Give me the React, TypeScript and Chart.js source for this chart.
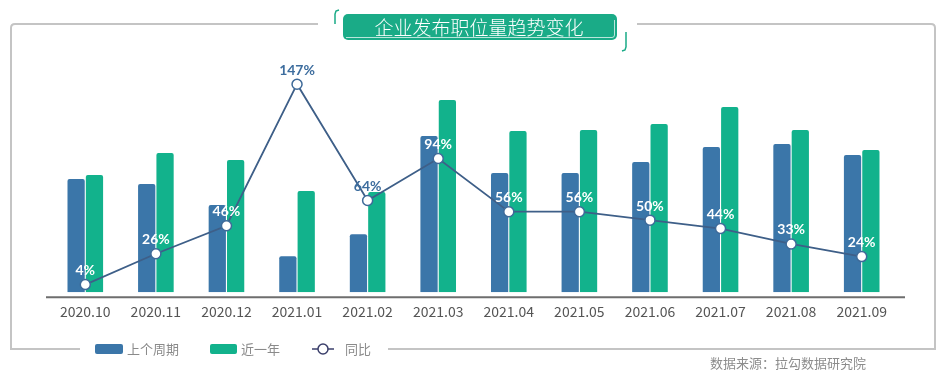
import React, { useEffect, useRef } from "react";
import { Chart, registerables } from "chart.js";

Chart.register(...registerables);

const categories = ["2020.10", "2020.11", "2020.12", "2021.01", "2021.02", "2021.03", "2021.04", "2021.05", "2021.06", "2021.07", "2021.08", "2021.09"];
const previousPeriod = [113, 108, 87, 36, 58, 156, 119, 119, 130, 145, 148, 137];
const lastYear = [117, 139, 132, 101, 100, 192, 161, 162, 168, 185, 162, 142];
const yoyPercent = [4, 26, 46, 147, 64, 94, 56, 56, 50, 44, 33, 24];

const title = "企业发布职位量趋势变化";
const legendLabels = ["上个周期", "近一年", "同比"];
const sourceText = "数据来源：拉勾数据研究院";

const BLUE = "#3b76a9";
const GREEN = "#12b28c";
const LINE = "#3e5f88";
const FRAME = "#c4c4c4";
const CJK = '"Noto Sans CJK SC", "Noto Sans", sans-serif';

const decorPlugin = {
  id: "decor",
  beforeDraw(chart: any) {
    const ctx = chart.ctx;
    ctx.save();
    // frame
    ctx.strokeStyle = FRAME;
    ctx.lineWidth = 2;
    ctx.lineCap = "butt";
    ctx.beginPath();
    ctx.moveTo(318, 24);
    ctx.lineTo(15, 24);
    ctx.quadraticCurveTo(11, 24, 11, 28);
    ctx.lineTo(11, 349);
    ctx.lineTo(80, 349);
    ctx.stroke();
    ctx.beginPath();
    ctx.moveTo(637, 24);
    ctx.lineTo(931, 24);
    ctx.quadraticCurveTo(935, 24, 935, 28);
    ctx.lineTo(935, 349);
    ctx.lineTo(388, 349);
    ctx.stroke();

    // title box
    ctx.fillStyle = "#1aab87";
    ctx.beginPath();
    ctx.roundRect(343, 14, 274, 26, 5);
    ctx.fill();
    ctx.strokeStyle = "rgba(255,255,255,0.7)";
    ctx.lineWidth = 1;
    ctx.beginPath();
    ctx.moveTo(346, 37.5);
    ctx.lineTo(612, 37.5);
    ctx.quadraticCurveTo(614.5, 37.5, 614.5, 35);
    ctx.lineTo(614.5, 20);
    ctx.stroke();
    ctx.fillStyle = "#ffffff";
    ctx.font = `300 19px ${CJK}`;
    ctx.textAlign = "center";
    ctx.textBaseline = "middle";
    ctx.fillText(title, 479, 28);

    // brackets
    ctx.strokeStyle = "#1aab87";
    ctx.lineWidth = 1.5;
    ctx.beginPath();
    ctx.moveTo(339, 10);
    ctx.lineTo(336, 11);
    ctx.lineTo(335, 14);
    ctx.lineTo(335, 24);
    ctx.stroke();
    ctx.beginPath();
    ctx.moveTo(626, 32);
    ctx.lineTo(626, 47);
    ctx.lineTo(625, 50);
    ctx.lineTo(622, 51);
    ctx.stroke();

    // legend
    ctx.textAlign = "left";
    ctx.textBaseline = "middle";
    ctx.font = `13px ${CJK}`;
    ctx.fillStyle = BLUE;
    ctx.beginPath();
    ctx.roundRect(95, 344, 28, 10, 2);
    ctx.fill();
    ctx.fillStyle = "#8a8a8a";
    ctx.fillText(legendLabels[0], 127, 349);
    ctx.fillStyle = GREEN;
    ctx.beginPath();
    ctx.roundRect(210, 344, 27, 10, 2);
    ctx.fill();
    ctx.fillStyle = "#8a8a8a";
    ctx.fillText(legendLabels[1], 241, 349);
    ctx.strokeStyle = "#3b3f6b";
    ctx.lineWidth = 1.5;
    ctx.beginPath();
    ctx.moveTo(312, 349);
    ctx.lineTo(334, 349);
    ctx.stroke();
    ctx.fillStyle = "#ffffff";
    ctx.beginPath();
    ctx.arc(323, 349, 5, 0, Math.PI * 2);
    ctx.fill();
    ctx.stroke();
    ctx.fillStyle = "#8a8a8a";
    ctx.fillText(legendLabels[2], 345, 349);

    // source
    ctx.fillStyle = "#8c8c8c";
    ctx.fillText(sourceText, 710, 363);

    // axis baseline
    const a = chart.chartArea;
    ctx.strokeStyle = "#6e6e6e";
    ctx.lineWidth = 2;
    ctx.beginPath();
    ctx.moveTo(46, a.bottom + 5);
    ctx.lineTo(905, a.bottom + 5);
    ctx.stroke();
    ctx.restore();
  },
  afterDatasetsDraw(chart: any) {
    const ctx = chart.ctx;
    const lineMeta = chart.getDatasetMeta(0);
    const blueMeta = chart.getDatasetMeta(1);
    ctx.save();
    ctx.font = `bold 14px Lato, "Open Sans", sans-serif`;
    ctx.textAlign = "center";
    ctx.textBaseline = "middle";
    lineMeta.data.forEach((pt: any, i: number) => {
      const bar = blueMeta.data[i];
      const inside = pt.y > bar.y;
      ctx.fillStyle = inside ? "#ffffff" : "#3d6d9e";
      ctx.fillText(yoyPercent[i] + "%", pt.x, pt.y - 14);
    });
    ctx.restore();
  },
};

export default function App() {
  const ref = useRef<HTMLCanvasElement>(null);
  useEffect(() => {
    const chart = new Chart(ref.current!, {
      type: "bar",
      data: {
        labels: categories,
        datasets: [
          {
            type: "line",
            label: legendLabels[2],
            data: yoyPercent,
            yAxisID: "y2",
            borderColor: LINE,
            borderWidth: 1.8,
            pointRadius: 5,
            pointBackgroundColor: "#ffffff",
            pointBorderColor: "#3e6a99",
            pointBorderWidth: 1.5,
            tension: 0,
            order: 0,
          } as any,
          {
            label: legendLabels[0],
            data: previousPeriod,
            backgroundColor: BLUE,
            borderRadius: { topLeft: 2, topRight: 2 },
            borderSkipped: "bottom",
            barPercentage: 0.94,
            categoryPercentage: 0.52,
            order: 1,
          },
          {
            label: legendLabels[1],
            data: lastYear,
            backgroundColor: GREEN,
            borderRadius: { topLeft: 2, topRight: 2 },
            borderSkipped: "bottom",
            barPercentage: 0.94,
            categoryPercentage: 0.52,
            order: 1,
          },
        ],
      },
      options: {
        animation: false,
        responsive: false,
        layout: { padding: { left: 50, right: 49, top: 72, bottom: 62 } },
        plugins: { legend: { display: false }, tooltip: { enabled: false } },
        scales: {
          x: {
            grid: { display: false },
            border: { display: false },
            ticks: { color: "#555555", font: { family: CJK, size: 14 }, padding: 3, maxRotation: 0 },
          },
          y: { display: false, min: 0, max: 220 },
          y2: { display: false, min: -1.43, max: 155.7 },
        },
      },
      plugins: [decorPlugin],
    });
    return () => chart.destroy();
  }, []);
  return (
    <div style={{ position: "absolute", left: 0, top: 0, width: 946, height: 385, background: "#fff" }}>
      <canvas ref={ref} width={946} height={385} style={{ display: "block" }} />
    </div>
  );
}
